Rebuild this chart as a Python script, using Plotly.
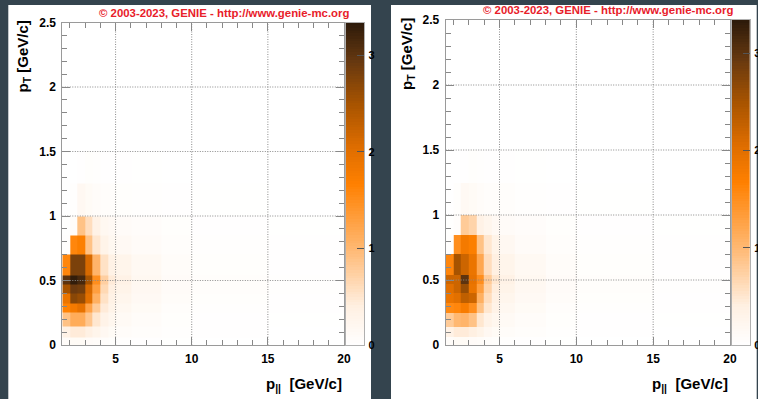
import plotly.graph_objects as go

# ---- data ----
x_edges = [1.5, 2, 2.5, 3, 3.5, 4, 4.5, 5, 6, 8, 10, 15, 20]
y_edges = [0, 0.06, 0.14, 0.25, 0.32, 0.4, 0.47, 0.54, 0.7, 0.85, 1.0, 1.25, 1.5]

z_left = [
    [0.08, 0.12, 0.12, 0.10, 0.08, 0.06, 0.04, 0.03, 0.02, 0.01, 0.005, 0.0],
    [0.35, 0.45, 0.45, 0.38, 0.28, 0.18, 0.12, 0.08, 0.05, 0.03, 0.015, 0.005],
    [0.90, 1.15, 1.15, 0.85, 0.50, 0.32, 0.22, 0.14, 0.08, 0.04, 0.02, 0.01],
    [1.65, 1.80, 1.95, 1.25, 0.80, 0.45, 0.30, 0.20, 0.12, 0.06, 0.03, 0.015],
    [1.90, 2.70, 2.60, 2.00, 1.10, 0.55, 0.35, 0.25, 0.15, 0.08, 0.04, 0.02],
    [2.50, 2.90, 2.85, 2.10, 1.30, 0.65, 0.40, 0.30, 0.18, 0.10, 0.05, 0.025],
    [3.00, 3.30, 3.15, 2.50, 1.50, 0.75, 0.45, 0.35, 0.20, 0.10, 0.05, 0.03],
    [1.60, 2.80, 2.80, 2.10, 1.05, 0.55, 0.35, 0.27, 0.16, 0.08, 0.04, 0.02],
    [0.03, 1.60, 1.70, 0.90, 0.50, 0.30, 0.20, 0.15, 0.10, 0.05, 0.03, 0.015],
    [0.01, 0.08, 0.90, 0.60, 0.35, 0.20, 0.15, 0.10, 0.07, 0.04, 0.02, 0.01],
    [0.00, 0.03, 0.18, 0.12, 0.08, 0.06, 0.05, 0.04, 0.03, 0.015, 0.01, 0.005],
    [0.00, 0.00, 0.02, 0.04, 0.03, 0.02, 0.02, 0.015, 0.01, 0.0, 0.0, 0.0],
]

z_right = [
    [0.08, 0.12, 0.12, 0.10, 0.08, 0.06, 0.04, 0.03, 0.02, 0.01, 0.005, 0.0],
    [0.35, 0.45, 0.45, 0.40, 0.30, 0.18, 0.12, 0.08, 0.05, 0.03, 0.015, 0.005],
    [0.80, 1.00, 1.05, 0.90, 0.50, 0.32, 0.22, 0.14, 0.08, 0.04, 0.02, 0.01],
    [1.55, 1.60, 1.75, 1.50, 0.90, 0.50, 0.32, 0.20, 0.12, 0.06, 0.03, 0.015],
    [1.90, 2.00, 2.30, 2.20, 1.10, 0.60, 0.38, 0.25, 0.15, 0.08, 0.04, 0.02],
    [2.00, 2.20, 2.60, 1.90, 1.30, 0.70, 0.42, 0.30, 0.18, 0.10, 0.05, 0.025],
    [2.20, 2.20, 3.00, 1.95, 1.50, 0.80, 0.50, 0.35, 0.20, 0.10, 0.05, 0.03],
    [1.60, 2.50, 2.20, 1.90, 1.20, 0.60, 0.40, 0.27, 0.16, 0.08, 0.04, 0.02],
    [0.03, 1.50, 1.80, 1.70, 0.90, 0.50, 0.30, 0.18, 0.10, 0.05, 0.03, 0.015],
    [0.01, 0.06, 0.80, 0.70, 0.35, 0.25, 0.15, 0.10, 0.07, 0.04, 0.02, 0.01],
    [0.00, 0.04, 0.15, 0.12, 0.08, 0.06, 0.06, 0.05, 0.03, 0.015, 0.01, 0.005],
    [0.00, 0.00, 0.02, 0.04, 0.03, 0.02, 0.02, 0.015, 0.01, 0.0, 0.0, 0.0],
]

z_max = 3.34
cbar_ticks = [0, 1, 2, 3]
x_grid = [5, 10, 15]
y_grid = [0.5, 1.0, 1.5, 2.0]
x_range = [1.5, 20]
y_range = [0, 2.5]
title_text = "© 2003-2023, GENIE - http://www.genie-mc.org"
xtitle = "p<sub>||</sub>  [GeV/c]"
ytitle = "p<sub>T</sub> [GeV/c]"

# colour-scale strip (legend gradient, not data)
N_GRAD = 120
grad_edges = [k * z_max / N_GRAD for k in range(N_GRAD + 1)]
grad_vals = [[(k + 0.5) * z_max / N_GRAD] for k in range(N_GRAD)]

# ---- styling ----
W, H = 758, 399
FONT = "Liberation Sans, Arial, sans-serif"
BG = "#34444e"
RED = "#e8202a"
GRID = dict(color="#8a8a8a", width=1, dash="1px,1.5px")
colorscale = [
    [0.0, "#ffffff"],
    [0.12, "#fff0e2"],
    [0.30, "#ffb872"],
    [0.50, "#ff8000"],
    [0.62, "#dc6c00"],
    [0.75, "#a65300"],
    [0.88, "#663810"],
    [1.0, "#2c1a0a"],
]


def px(v):
    return v / W


def py(v):
    return 1 - v / H


panels = [
    dict(x0=62.3, x1=344.0, y_top=22.5, y_bot=345.0, cb_x0=345.7, cb_x1=364.3,
         white=(8.3, 371.0), tx=223.7, ty=12.7, ylab_x=23, z=z_left),
    dict(x0=445.7, x1=730.0, y_top=20.0, y_bot=345.0, cb_x0=731.7, cb_x1=750.0,
         white=(391.0, 756.7), tx=608.3, ty=10.0, ylab_x=407, z=z_right),
]

fig = go.Figure()
shapes = []
annotations = []
layout_axes = {}
bold12 = dict(family=FONT, size=12, color="black", weight="bold")

for i, p in enumerate(panels):
    a = 2 * i + 1
    b = 2 * i + 2
    sa = "" if a == 1 else str(a)
    sb = str(b)
    # main 2D histogram
    fig.add_trace(go.Heatmap(
        x=x_edges, y=y_edges, z=p["z"],
        xaxis="x" + sa, yaxis="y" + sa,
        colorscale=colorscale, zmin=0, zmax=z_max, showscale=False,
        hoverinfo="skip",
    ))
    # colour scale strip
    fig.add_trace(go.Heatmap(
        x=[0, 1], y=grad_edges, z=grad_vals,
        xaxis="x" + sb, yaxis="y" + sb,
        colorscale=colorscale, zmin=0, zmax=z_max, showscale=False,
        hoverinfo="skip",
    ))
    axis_common = dict(
        ticks="inside", tickcolor="#888888", tickwidth=1,
        showline=True, linecolor="#9a9a9a", linewidth=1, mirror="allticks",
        showgrid=False, zeroline=False, tickfont=bold12, layer="above traces",
    )
    ydom = [py(p["y_bot"]), py(p["y_top"])]
    layout_axes["xaxis" + sa] = dict(
        domain=[px(p["x0"]), px(p["x1"])], range=x_range,
        anchor="y" + sa, tick0=0, dtick=5, ticklen=8,
        minor=dict(dtick=1, ticks="inside", ticklen=5, tickcolor="#888888", showgrid=False),
        ticklabelstandoff=3,
        **axis_common,
    )
    layout_axes["yaxis" + sa] = dict(
        domain=ydom, range=y_range,
        anchor="x" + sa, tick0=0, dtick=0.5, ticklen=8,
        minor=dict(dtick=0.1, ticks="inside", ticklen=5, tickcolor="#888888", showgrid=False),
        ticklabelstandoff=3,
        **axis_common,
    )
    layout_axes["xaxis" + sb] = dict(
        domain=[px(p["cb_x0"]), px(p["cb_x1"])], range=[0, 1], anchor="y" + sb,
        showticklabels=False, ticks="", showgrid=False, zeroline=False,
        showline=True, linecolor="#b0b0b0", linewidth=1, mirror=True,
    )
    layout_axes["yaxis" + sb] = dict(
        domain=ydom, range=[0, z_max], anchor="x" + sb, side="right",
        tickmode="array", tickvals=cbar_ticks,
        ticks="inside", ticklen=7, tickcolor="#555555", tickwidth=1,
        showgrid=False, zeroline=False,
        showline=True, linecolor="#b0b0b0", linewidth=1, mirror=True,
        ticklabelstandoff=1, layer="above traces",
        tickfont=dict(family=FONT, size=11, color="black", weight="bold"),
    )
    # dotted grid drawn over the histogram, as in the reference
    for gx in x_grid:
        shapes.append(dict(type="line", xref="x" + sa, yref="y" + sa,
                           x0=gx, x1=gx, y0=y_range[0], y1=y_range[1],
                           line=GRID, layer="above"))
    for gy in y_grid:
        shapes.append(dict(type="line", xref="x" + sa, yref="y" + sa,
                           x0=x_range[0], x1=x_range[1], y0=gy, y1=gy,
                           line=GRID, layer="above"))
    shapes.append(dict(type="rect", xref="paper", yref="paper",
                       x0=px(p["white"][0]), x1=px(p["white"][1]),
                       y0=0, y1=py(5), fillcolor="white", line_width=0, layer="below"))
    annotations.append(dict(text="<b>" + title_text + "</b>", xref="paper", yref="paper",
                            x=px(p["tx"]), y=py(p["ty"]), xanchor="center", yanchor="middle",
                            showarrow=False, font=dict(family=FONT, size=11.4, color=RED)))
    annotations.append(dict(text="<b>" + ytitle + "</b>", xref="paper", yref="paper",
                            x=px(p["ylab_x"]), y=py(p["y_top"] + 34), xanchor="center", yanchor="middle",
                            textangle=-90, showarrow=False,
                            font=dict(family=FONT, size=15, color="black")))
    annotations.append(dict(text="<b>" + xtitle + "</b>", xref="paper", yref="paper",
                            x=px(p["x1"]), y=py(373), xanchor="right", yanchor="top",
                            showarrow=False,
                            font=dict(family=FONT, size=15, color="black")))

fig.update_layout(
    width=W, height=H, margin=dict(l=0, r=0, t=0, b=0, autoexpand=False),
    paper_bgcolor=BG, plot_bgcolor="white",
    showlegend=False, shapes=shapes, annotations=annotations,
    **layout_axes,
)

fig.write_html("out.html", config={"displayModeBar": False},
               post_script="document.documentElement.style.margin='0';document.body.style.margin='0';document.body.style.overflow='hidden';")
